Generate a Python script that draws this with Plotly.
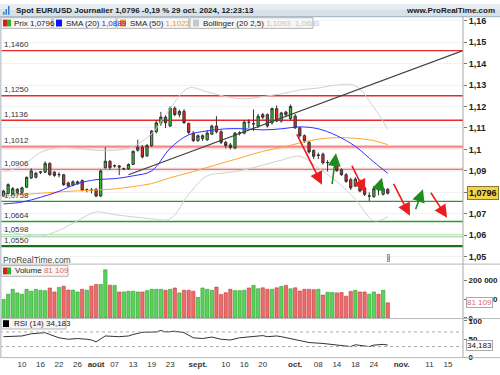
import plotly.graph_objects as go
import pandas as pd

# ---------------- data ----------------
dates = [d.strftime("%Y-%m-%d") for d in pd.bdate_range("2024-07-04", "2024-10-29")]
calendar = [d.strftime("%Y-%m-%d") for d in pd.bdate_range("2024-07-04", "2024-11-29")]

opens = [1.0783, 1.0795, 1.0792, 1.0800, 1.0800, 1.0824, 1.0867, 1.0870, 1.0893, 1.0894,
         1.0935, 1.0894, 1.0882, 1.0882, 1.0844, 1.0833, 1.0840, 1.0855, 1.0810, 1.0811,
         1.0814, 1.0783, 1.0915, 1.0945, 1.0923, 1.0923, 1.0909, 1.0909, 1.0930, 1.0996,
         1.1010, 1.0970, 1.1018, 1.1082, 1.1124, 1.1151, 1.1109, 1.1192, 1.1162, 1.1177,
         1.1121, 1.1076, 1.1041, 1.1050, 1.1045, 1.1071, 1.1109, 1.1082, 1.1033, 1.1021,
         1.1006, 1.1076, 1.1076, 1.1127, 1.1118, 1.1109, 1.1162, 1.1162, 1.1124, 1.1190,
         1.1132, 1.1174, 1.1144, 1.1155, 1.1101, 1.1064, 1.1033, 1.0995, 1.0972, 1.0978,
         1.0938, 1.0935, 1.0932, 1.0905, 1.0882, 1.0859, 1.0829, 1.0851, 1.0821, 1.0782,
         1.0780, 1.0815, 1.0791, 1.0814]
highs = [1.0812, 1.0842, 1.0825, 1.0820, 1.0826, 1.0874, 1.0912, 1.0895, 1.0900, 1.0945,
         1.0940, 1.0900, 1.0894, 1.0886, 1.0850, 1.0856, 1.0855, 1.0860, 1.0818, 1.0820,
         1.0820, 1.0906, 1.1010, 1.0950, 1.0930, 1.0928, 1.0915, 1.0935, 1.0995, 1.1045,
         1.1020, 1.1025, 1.1090, 1.1135, 1.1175, 1.1160, 1.1200, 1.1200, 1.1185, 1.1188,
         1.1125, 1.1085, 1.1070, 1.1070, 1.1090, 1.1115, 1.1155, 1.1090, 1.1040, 1.1030,
         1.1080, 1.1085, 1.1135, 1.1140, 1.1186, 1.1165, 1.1170, 1.1168, 1.1195, 1.1205,
         1.1175, 1.1180, 1.1209, 1.1165, 1.1105, 1.1070, 1.1040, 1.1000, 1.0985, 1.0985,
         1.0950, 1.0945, 1.0940, 1.0912, 1.0890, 1.0868, 1.0870, 1.0860, 1.0825, 1.0800,
         1.0830, 1.0829, 1.0822, 1.0820]
lows = [1.0778, 1.0790, 1.0788, 1.0795, 1.0795, 1.0820, 1.0862, 1.0865, 1.0885, 1.0890,
        1.0878, 1.0872, 1.0870, 1.0830, 1.0825, 1.0828, 1.0835, 1.0805, 1.0800, 1.0795,
        1.0778, 1.0778, 1.0910, 1.0905, 1.0915, 1.0880, 1.0905, 1.0905, 1.0928, 1.0990,
        1.0958, 1.0965, 1.1012, 1.1075, 1.1110, 1.1100, 1.1105, 1.1155, 1.1150, 1.1120,
        1.1070, 1.1035, 1.1035, 1.1040, 1.1040, 1.1068, 1.1075, 1.1025, 1.1005, 1.1000,
        1.1002, 1.1065, 1.1070, 1.1100, 1.1086, 1.1100, 1.1140, 1.1102, 1.1115, 1.1128,
        1.1125, 1.1150, 1.1135, 1.1095, 1.1055, 1.1030, 1.0980, 1.0955, 1.0955, 1.0930,
        1.0897, 1.0925, 1.0896, 1.0877, 1.0845, 1.0811, 1.0825, 1.0800, 1.0783, 1.0760,
        1.0775, 1.0786, 1.0786, 1.0790]
closes = [1.0806, 1.0836, 1.0817, 1.0814, 1.0821, 1.0870, 1.0900, 1.0889, 1.0895, 1.0935,
          1.0882, 1.0879, 1.0883, 1.0836, 1.0829, 1.0849, 1.0849, 1.0809, 1.0812, 1.0810,
          1.0783, 1.0900, 1.0945, 1.0915, 1.0924, 1.0918, 1.0910, 1.0930, 1.0991, 1.1010,
          1.0965, 1.1018, 1.1086, 1.1124, 1.1151, 1.1124, 1.1192, 1.1162, 1.1177, 1.1124,
          1.1079, 1.1041, 1.1064, 1.1064, 1.1076, 1.1109, 1.1082, 1.1033, 1.1018, 1.1009,
          1.1076, 1.1077, 1.1127, 1.1126, 1.1120, 1.1155, 1.1150, 1.1109, 1.1190, 1.1132,
          1.1170, 1.1162, 1.1200, 1.1101, 1.1064, 1.1040, 1.0988, 1.0968, 1.0974, 1.0938,
          1.0939, 1.0936, 1.0901, 1.0882, 1.0851, 1.0821, 1.0862, 1.0806, 1.0791, 1.0784,
          1.0817, 1.0812, 1.0817, 1.0796]
volumes = [99000, 127000, 153000, 134000, 127000, 153000, 143000, 153000, 148000, 146000,
           160000, 139000, 163000, 170000, 149000, 149000, 139000, 153000, 148000, 170000,
           179000, 179000, 257000, 175000, 174000, 139000, 139000, 143000, 143000, 139000,
           139000, 146000, 153000, 153000, 153000, 148000, 153000, 160000, 134000, 148000,
           148000, 143000, 110000, 160000, 153000, 148000, 165000, 125000, 135000, 153000,
           146000, 146000, 148000, 160000, 174000, 156000, 161000, 153000, 153000, 161000,
           168000, 174000, 156000, 161000, 144000, 153000, 153000, 151000, 153000, 122000,
           137000, 136000, 134000, 136000, 116000, 142000, 148000, 139000, 139000, 127000,
           139000, 127000, 148000, 81109]

# indicator samples: bar number (index into dates) -> value
ind_bars = [0, 4, 8, 12, 16, 20, 24, 28, 32, 36, 40, 44, 48, 52, 56, 60, 64, 68, 72, 76, 80, 83]
sma20 = [1.0746, 1.0755, 1.0777, 1.0805, 1.0841, 1.0859, 1.0864, 1.0877, 1.0900, 1.1005, 1.1068,
         1.1086, 1.1096, 1.1096, 1.1091, 1.1096, 1.1105, 1.1096, 1.1064, 1.1014, 1.0941, 1.0889]
sma50 = [1.0783, 1.0790, 1.0796, 1.0802, 1.0807, 1.0811, 1.0816, 1.0827, 1.0841, 1.0868, 1.0891,
         1.0916, 1.0941, 1.0966, 1.0991, 1.1009, 1.1030, 1.1048, 1.1055, 1.1052, 1.1041, 1.1022]
boll_up = [1.0896, 1.0923, 1.0986, 1.1009, 1.1005, 1.0996, 1.0996, 1.1014, 1.1073, 1.1191, 1.1286,
           1.1268, 1.1246, 1.1236, 1.1246, 1.1259, 1.1277, 1.1286, 1.1300, 1.1296, 1.1196, 1.1093]
boll_low = [1.0623, 1.0605, 1.0596, 1.0623, 1.0668, 1.0709, 1.0696, 1.0686, 1.0677, 1.0677, 1.0791,
            1.0877, 1.0891, 1.0905, 1.0927, 1.0950, 1.0968, 1.0914, 1.0850, 1.0768, 1.0668, 1.0686]

rsi_bars = [0, 4, 6, 9, 10, 12, 14, 16, 18, 19, 20, 21, 22, 25, 27, 28, 30, 33, 34, 35, 37, 39,
            41, 43, 45, 47, 49, 51, 54, 56, 57, 59, 60, 62, 64, 66, 69, 72, 75, 76, 77, 79, 80, 82, 83]
rsi = [57, 59, 65, 68, 63, 54, 50, 52, 50, 48, 43, 52, 59, 57, 59, 63, 69, 70, 74, 70, 72, 68,
       54, 52, 56, 50, 48, 54, 57, 60, 57, 59, 57, 52, 46, 41, 38.5, 34, 30, 35, 33, 30, 34, 36, 34.183]

level_values = [1.1460, 1.1250, 1.1136, 1.1012, 1.0906, 1.0758, 1.0664, 1.0598, 1.0550]
level_labels = ["1,1460", "1,1250", "1,1136", "1,1012", "1,0906", "1,0758", "1,0664", "1,0598", "1,0550"]

trend_x = [27.0, 99.25]
trend_y = [1.0882, 1.1460]

arrow_x0 = [63.2, 70.95, 75.1, 80.9, 84.1, 88.9, 92.1]
arrow_y0 = [1.1077, 1.0832, 1.0932, 1.0805, 1.0846, 1.0714, 1.0805]
arrow_x1 = [68.8, 71.8, 78.1, 81.75, 87.8, 90.6, 95.8]
arrow_y1 = [1.0836, 1.0982, 1.0800, 1.0868, 1.0691, 1.0814, 1.0682]
arrow_up = [False, True, False, True, False, True, False]

tick_dates = ["2024-07-10", "2024-07-16", "2024-07-22", "2024-07-26", "2024-08-01", "2024-08-07",
              "2024-08-13", "2024-08-19", "2024-08-23", "2024-09-02", "2024-09-10", "2024-09-16",
              "2024-09-20", "2024-10-01", "2024-10-08", "2024-10-14", "2024-10-18", "2024-10-24",
              "2024-11-01", "2024-11-11", "2024-11-15"]
tick_labels = ["10", "16", "22", "26", "<b>août</b>", "07", "13", "19", "23", "<b>sept.</b>", "10",
               "16", "20", "<b>oct.</b>", "08", "14", "18", "24", "<b>nov.</b>", "11", "15"]

# ---------------- geometry helpers ----------------
PW, H = 463.0, 375.0
def xp(px):
    return px / PW
def yp(py):
    return 1 - py / H

pos = {d: k for k, d in enumerate(calendar)}
xs = [pos[d] for d in dates]
FONT = "Liberation Sans, Arial, sans-serif"

GREEN = "#36c236"
RED = "#e22a2a"

fig = go.Figure()

bx = [xs[b] for b in ind_bars]
fig.add_trace(go.Scatter(x=bx, y=boll_up, mode="lines", line=dict(color="#d0d0d0", width=1, shape="spline"), hoverinfo="skip"))
fig.add_trace(go.Scatter(x=bx, y=boll_low, mode="lines", line=dict(color="#d0d0d0", width=1, shape="spline"), hoverinfo="skip"))
fig.add_trace(go.Scatter(x=bx, y=sma50, mode="lines", line=dict(color="#ffa733", width=1, shape="spline"), hoverinfo="skip"))
fig.add_trace(go.Scatter(x=bx, y=sma20, mode="lines", line=dict(color="#3030ff", width=1, shape="spline"), hoverinfo="skip"))
fig.add_trace(go.Scatter(x=trend_x, y=trend_y, mode="lines", line=dict(color="#404040", width=1.2), hoverinfo="skip"))

fig.add_trace(go.Candlestick(
    x=xs, open=opens, high=highs, low=lows, close=closes,
    increasing=dict(fillcolor=GREEN, line=dict(color="#333333", width=1)),
    decreasing=dict(fillcolor=RED, line=dict(color="#333333", width=1)),
    whiskerwidth=0, xaxis="x", yaxis="y"))

vcolors = ["#5ad35a" if c >= o else "#ec6b6b" for o, c in zip(opens, closes)]
vlines = ["#2c9a2c" if c >= o else "#c23a3a" for o, c in zip(opens, closes)]
fig.add_trace(go.Bar(x=xs, y=volumes, marker=dict(color=vcolors, line=dict(color=vlines, width=0.6)),
                     width=0.72, xaxis="x", yaxis="y2"))

fig.add_trace(go.Scatter(x=[xs[b] for b in rsi_bars], y=rsi, mode="lines",
                         line=dict(color="#333333", width=1), xaxis="x", yaxis="y3"))

shapes = []
annotations = []

level_styles = [("#e8282b", 1.4, None), ("#e8282b", 1.4, None), ("#e8282b", 1.4, None),
                ("#f06a6a", 1.0, "#f8c4c4"), ("#f06a6a", 1.0, "#f8c4c4"),
                ("#2e9a2e", 1.4, None), ("#2e9a2e", 1.4, None),
                ("#8ccb8c", 1.0, "#bfe2bf"), ("#1d6e1d", 2.2, None)]
for v, lab, (col, w, halo) in zip(level_values, level_labels, level_styles):
    if halo:
        shapes.append(dict(type="line", xref="paper", x0=0, x1=1, yref="y", y0=v, y1=v,
                           line=dict(color=halo, width=3.5), layer="below"))
    shapes.append(dict(type="line", xref="paper", x0=0, x1=1, yref="y", y0=v, y1=v,
                       line=dict(color=col, width=w), layer="below"))
    annotations.append(dict(text=lab, xref="paper", x=xp(2), yref="y", y=v, yshift=6,
                            xanchor="left", yanchor="middle", showarrow=False,
                            font=dict(family=FONT, size=8, color="#333")))

for lv in (70, 30):
    shapes.append(dict(type="line", xref="paper", x0=0, x1=1, yref="y3", y0=lv, y1=lv,
                       line=dict(color="#aaaaaa", width=1, dash="dot")))

for x0, y0, x1, y1, up in zip(arrow_x0, arrow_y0, arrow_x1, arrow_y1, arrow_up):
    col = "#1e8c1e" if up else "#ec1c24"
    annotations.append(dict(x=x1, y=y1, ax=x0, ay=y0, xref="x", yref="y", axref="x", ayref="y",
                            showarrow=True, arrowhead=2, arrowsize=1.6, arrowwidth=1.6,
                            arrowcolor=col, text=""))

# header bar
shapes.append(dict(type="rect", xref="paper", yref="paper", x0=0, x1=xp(500), y0=yp(13), y1=1,
                   fillcolor="#d8e1e7", line=dict(width=0), layer="above"))
shapes.append(dict(type="rect", xref="paper", yref="paper", x0=0, x1=xp(500), y0=yp(6), y1=1,
                   fillcolor="#e6ecf0", line=dict(width=0), layer="above"))
shapes.append(dict(type="line", xref="paper", yref="paper", x0=0, x1=xp(500), y0=yp(13), y1=yp(13),
                   line=dict(color="#9fb0bb", width=1), layer="above"))
for (a, b, c, d) in [(3, 8, 4.5, 11), (5.5, 5, 7, 11), (8, 2, 9.5, 11)]:
    shapes.append(dict(type="rect", xref="paper", yref="paper", x0=xp(a), x1=xp(c), y0=yp(d), y1=yp(b),
                       fillcolor="#2f7fd0", line=dict(width=0), layer="above"))
annotations.append(dict(text="<b>Spot EUR/USD Journalier 1,0796 -0,19 % 29 oct. 2024, 12:23:13</b>",
                        xref="paper", yref="paper", x=xp(14), y=yp(6.5), xanchor="left", yanchor="middle",
                        showarrow=False, font=dict(family=FONT, size=8, color="#1a1a1a")))
annotations.append(dict(text="<b>www.ProRealTime.com</b>", xref="paper", yref="paper", x=xp(497), y=yp(6.5),
                        xanchor="right", yanchor="middle", showarrow=False,
                        font=dict(family=FONT, size=8, color="#1a1a1a")))

for (a, b) in [(1, 52), (53, 116), (117, 189), (190, 313)]:
    shapes.append(dict(type="rect", xref="paper", yref="paper", x0=xp(a), x1=xp(b), y0=yp(25), y1=yp(14),
                       fillcolor="#f6f6f6", line=dict(color="#b5b5b5", width=1), layer="above"))
icons = [((3, 7), "#d42020"), ((7, 11), "#2fb02f"), ((56, 62), "#1010ff"), ((120, 126), "#ff9900"),
         ((193, 199), "#c8c8c8")]
for (a, b), col in icons:
    shapes.append(dict(type="rect", xref="paper", yref="paper", x0=xp(a), x1=xp(b), y0=yp(23), y1=yp(16),
                       fillcolor=col, line=dict(width=0), layer="above"))
legend_items = [(12, "Prix 1,0796"),
                (64, 'SMA (20) <span style="color:#2626ff">1,0889</span>'),
                (128, 'SMA (50) <span style="color:#f39a1e">1,1022</span>'),
                (201, 'Bollinger (20 2,5) <span style="color:#c4c4c4">1,1093  1,0686</span>')]
for x0, t in legend_items:
    annotations.append(dict(text=t, xref="paper", yref="paper", x=xp(x0), y=yp(19.5), xanchor="left",
                            yanchor="middle", showarrow=False, font=dict(family=FONT, size=8, color="#222")))

shapes.append(dict(type="rect", xref="paper", yref="paper", x0=xp(1), x1=xp(68), y0=yp(279), y1=yp(268),
                   fillcolor="#f6f6f6", line=dict(color="#b5b5b5", width=1), layer="above"))
shapes.append(dict(type="rect", xref="paper", yref="paper", x0=xp(3), x1=xp(7), y0=yp(277), y1=yp(270),
                   fillcolor="#d42020", line=dict(width=0), layer="above"))
shapes.append(dict(type="rect", xref="paper", yref="paper", x0=xp(7), x1=xp(11), y0=yp(277), y1=yp(270),
                   fillcolor="#2fb02f", line=dict(width=0), layer="above"))
annotations.append(dict(text='Volume <span style="color:#e06666">81 109</span>', xref="paper", yref="paper",
                        x=xp(13), y=yp(273.5), xanchor="left", yanchor="middle", showarrow=False,
                        font=dict(family=FONT, size=8, color="#222")))
shapes.append(dict(type="rect", xref="paper", yref="paper", x0=xp(1), x1=xp(66), y0=yp(333), y1=yp(322),
                   fillcolor="#f6f6f6", line=dict(color="#b5b5b5", width=1), layer="above"))
shapes.append(dict(type="rect", xref="paper", yref="paper", x0=xp(3), x1=xp(9), y0=yp(331), y1=yp(324),
                   fillcolor="#000000", line=dict(width=0), layer="above"))
annotations.append(dict(text="RSI (14) 34,183", xref="paper", yref="paper", x=xp(12), y=yp(327.5),
                        xanchor="left", yanchor="middle", showarrow=False,
                        font=dict(family=FONT, size=8, color="#222")))
annotations.append(dict(text="ProRealTime.com", xref="paper", yref="paper", x=xp(1), y=yp(262),
                        xanchor="left", yanchor="middle", showarrow=False,
                        font=dict(family=FONT, size=8.5, color="#444")))
annotations.append(dict(text="i", xref="paper", yref="paper", x=xp(388), y=yp(260), xanchor="center",
                        yanchor="middle", showarrow=False, bgcolor="#eeeeee", bordercolor="#999",
                        borderwidth=1, borderpad=0, font=dict(family=FONT, size=6, color="#555")))

for py in (266.5, 322.3):
    shapes.append(dict(type="line", xref="paper", yref="paper", x0=0, x1=xp(500), y0=yp(py), y1=yp(py),
                       line=dict(color="#b8b8b8", width=1)))
shapes.append(dict(type="line", xref="paper", yref="paper", x0=0, x1=xp(500), y0=yp(362.3), y1=yp(362.3),
                   line=dict(color="#b8b8b8", width=1)))
shapes.append(dict(type="line", xref="paper", yref="paper", x0=xp(0.8), x1=xp(0.8), y0=yp(362), y1=yp(13),
                   line=dict(color="#c4ccd2", width=1.5)))
shapes.append(dict(type="line", xref="paper", yref="paper", x0=1, x1=1, y0=yp(362), y1=yp(13),
                   line=dict(color="#a8a8a8", width=1)))

annotations.append(dict(text="<b>1,0796</b>", xref="paper", x=xp(467), yref="y", y=closes[-1],
                        xanchor="left", yanchor="middle", showarrow=False, bgcolor="#f4d24a",
                        bordercolor="#8a7a30", borderwidth=1, borderpad=1,
                        font=dict(family=FONT, size=9, color="#111")))
annotations.append(dict(text="81 109", xref="paper", x=xp(466), yref="y2", y=volumes[-1],
                        xanchor="left", yanchor="middle", showarrow=False, bgcolor="#ffffff",
                        bordercolor="#aaaaaa", borderwidth=1, borderpad=0,
                        font=dict(family=FONT, size=8, color="#e06666")))
annotations.append(dict(text="34,183", xref="paper", x=xp(466), yref="y3", y=rsi[-1],
                        xanchor="left", yanchor="middle", showarrow=False, bgcolor="#ffffff",
                        bordercolor="#aaaaaa", borderwidth=1, borderpad=0,
                        font=dict(family=FONT, size=8, color="#111")))

axis_common = dict(side="right", anchor="x", showline=False, ticks="outside", ticklen=3,
                   tickcolor="#777", zeroline=False)

fig.update_layout(
    width=500, height=375, margin=dict(l=0, r=37, t=0, b=0),
    paper_bgcolor="white", plot_bgcolor="white", showlegend=False,
    separators=", ", hovermode=False,
    xaxis=dict(range=[-0.75, 99.25], anchor="y3", showgrid=False, zeroline=False, showline=False,
               tickvals=[pos[d] for d in tick_dates], ticktext=tick_labels, ticks="",
               tickfont=dict(family=FONT, size=8, color="#333"), rangeslider=dict(visible=False)),
    yaxis=dict(domain=[yp(266), yp(13)], range=[1.10 + (149 - 266) / 2200, 1.10 + (149 - 13) / 2200],
               dtick=0.01, tick0=1.0, showgrid=True, gridcolor="#f2f2f2",
               tickfont=dict(family=FONT, size=9, color="#222", weight="bold"), **axis_common),
    yaxis2=dict(domain=[yp(321.7), yp(267)], range=[0, 285000], tickvals=[0, 100000, 200000],
                ticktext=["0", "100 000", "200 000"], showgrid=False,
                tickfont=dict(family=FONT, size=8, color="#222", weight="bold"), **axis_common),
    yaxis3=dict(domain=[yp(362.25), yp(324.75)], range=[0, 100], tickvals=[0, 50, 100], showgrid=False,
                tickfont=dict(family=FONT, size=8, color="#222", weight="bold"), **axis_common),
    shapes=shapes, annotations=annotations,
)

fig.write_html("out.html", config={"displayModeBar": False, "staticPlot": True},
               post_script="document.body.style.margin='0px';document.body.style.overflow='hidden';")
